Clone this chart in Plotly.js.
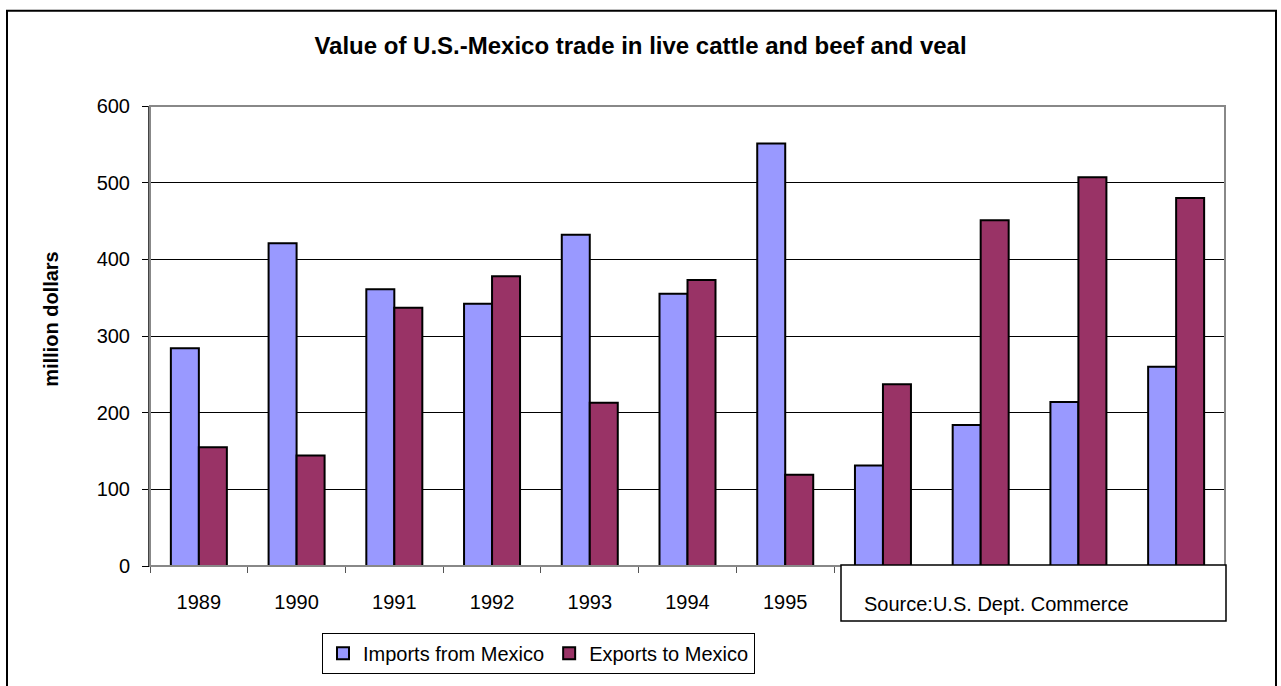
<!DOCTYPE html>
<html>
<head>
<meta charset="utf-8">
<script src="https://cdn.plot.ly/plotly-3.0.1.min.js"></script>
<style>html,body{margin:0;padding:0;background:#fff;overflow:hidden;}#chart{width:1281px;height:686px;}</style>
</head>
<body>
<div id="chart"></div>
<script>
const years = ['1989','1990','1991','1992','1993','1994','1995','1996','1997','1998','1999'];
const importsFromMexico = [284, 421, 361, 342, 432, 355, 551, 131, 184, 214, 260];
const exportsToMexico = [155, 144, 337, 378, 213, 373, 119, 237, 451, 507, 480];
// the labels of 1996-1999 are hidden behind the source box in the reference
const tickLabels = ['1989','1990','1991','1992','1993','1994','1995','','','',''];
const seriesNames = ['Imports from Mexico', 'Exports to Mexico'];
const titleText = 'Value of U.S.-Mexico trade in live cattle and beef and veal';
const yTitleText = 'million dollars';
const sourceText = 'Source:U.S. Dept. Commerce';

const FONT = 'Liberation Sans, Arial, Helvetica, sans-serif';
const W = 1281, H = 686;
const L = 150, R = 1225, T = 106, B = 575;
const pw = R - L, ph = B - T;
const px = x => (x - L) / pw;
const py = y => (B - y) / ph;

const data = [
  {type:'bar', name: seriesNames[0], x: years, y: importsFromMexico,
   marker:{color:'#9999FF', line:{color:'#000', width:2}}},
  {type:'bar', name: seriesNames[1], x: years, y: exportsToMexico,
   marker:{color:'#993366', line:{color:'#000', width:2}}}
];

const layout = {
  width: W, height: H,
  margin: {l: L, r: W - R, t: T, b: H - B, pad: 0},
  paper_bgcolor: '#fff', plot_bgcolor: '#fff',
  font: {family: FONT, size: 20, color: '#000'},
  showlegend: true,
  barmode: 'group', bargap: 0.427, bargroupgap: 0,
  title: {text: '<b>' + titleText + '</b>', x: 0.5, xref: 'container', xanchor: 'center',
          y: 1 - 46/H, yref: 'container', yanchor: 'middle',
          font: {family: FONT, size: 24, color: '#000'}},
  xaxis: {type: 'category', showgrid: false, zeroline: false,
          showline: true, linecolor: '#000', linewidth: 1,
          tickmode: 'array', tickvals: years, ticktext: tickLabels,
          ticks: 'outside', tickson: 'boundaries', ticklen: 6, tickcolor: '#555', tickwidth: 1,
          tickfont: {family: FONT, size: 20, color: '#000'}, ticklabelstandoff: 18},
  yaxis: {range: [0, 600], dtick: 100, tick0: 0, showgrid: true, gridcolor: '#000', gridwidth: 1,
          zeroline: false, showline: true, linecolor: '#444', linewidth: 2,
          ticks: 'outside', ticklen: 6, tickcolor: '#000', tickwidth: 1,
          tickfont: {family: FONT, size: 20, color: '#000'}, ticklabelstandoff: 8},
  legend: {orientation: 'h', x: px(322), xanchor: 'left', y: py(643), yanchor: 'top',
           bordercolor: '#000', borderwidth: 1, bgcolor: '#fff',
           font: {family: FONT, size: 20, color: '#000'}, traceorder: 'normal', itemwidth: 30},
  shapes: [
    {type: 'rect', xref: 'paper', yref: 'paper', x0: 0, x1: 1, y0: 0, y1: 1,
     line: {color: '#888', width: 2}, layer: 'above'},
    {type: 'rect', xref: 'paper', yref: 'paper', x0: px(841), x1: px(1226), y0: py(631), y1: py(574),
     line: {color: '#000', width: 1.5}, fillcolor: '#fff', layer: 'above'},
    {type: 'rect', xref: 'paper', yref: 'paper', x0: px(7), x1: px(1276), y0: py(720), y1: py(9),
     line: {color: '#000', width: 2}, layer: 'above'}
  ],
  annotations: [
    {text: sourceText, xref: 'paper', yref: 'paper', x: px(862), y: py(614),
     xanchor: 'left', yanchor: 'middle', showarrow: false,
     font: {family: FONT, size: 20, color: '#000'}},
    {text: '<b>' + yTitleText + '</b>', xref: 'paper', yref: 'paper', x: px(51), y: py(323),
     xanchor: 'center', yanchor: 'middle', textangle: -90, showarrow: false,
     font: {family: FONT, size: 20, color: '#000'}}
  ]
};

Plotly.newPlot('chart', data, layout, {displayModeBar: false, staticPlot: true});
</script>
</body>
</html>
